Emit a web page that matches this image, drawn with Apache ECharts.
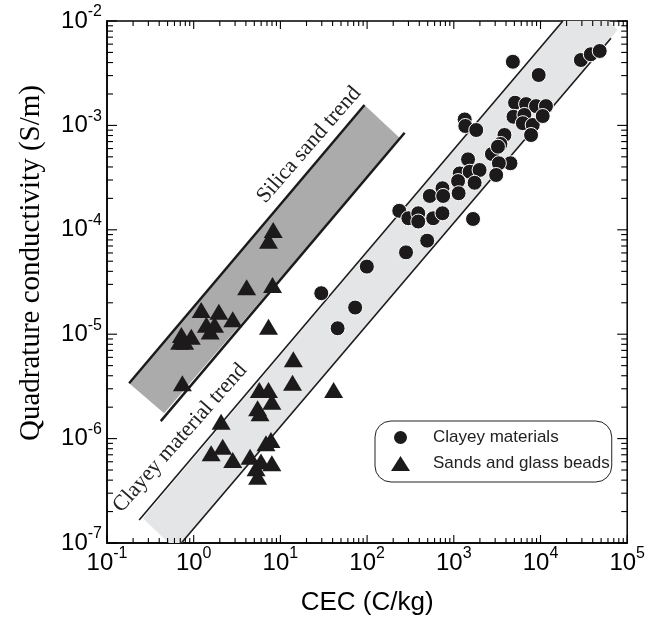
<!DOCTYPE html>
<html><head><meta charset="utf-8">
<script src="https://cdn.jsdelivr.net/npm/echarts@6/dist/echarts.min.js"></script>
<style>html,body{margin:0;padding:0;background:#fff}#c{width:648px;height:621px}</style>
</head><body><div id="c"></div>
<script>
// ---- data ----
const clayeyCEC = [4800, 9530, 29200, 38000, 48200, 5090, 6820, 8880, 11560, 4880, 6520, 6250, 8130, 10600, 7780, 3840, 3450, 2750, 3230, 4500, 3310, 3080, 1335, 1358, 1815, 1460, 1170, 1524, 1983, 1738, 1120, 1137, 740, 528, 754, 235, 299, 389, 389, 578, 740, 1667, 493, 281, 99.3, 29.6, 72.8, 45.7];
const clayeyQC = [4.07e-3, 3.04e-3, 4.23e-3, 4.80e-3, 5.16e-3, 1.65e-3, 1.60e-3, 1.53e-3, 1.53e-3, 1.21e-3, 1.26e-3, 1.05e-3, 1.01e-3, 1.23e-3, 8.09e-4, 8.09e-4, 6.64e-4, 5.32e-4, 6.25e-4, 4.34e-4, 4.34e-4, 3.35e-4, 1.14e-3, 9.87e-4, 9.03e-4, 4.73e-4, 3.47e-4, 3.60e-4, 3.74e-4, 2.82e-4, 2.93e-4, 2.24e-4, 2.50e-4, 2.11e-4, 2.11e-4, 1.52e-4, 1.29e-4, 1.44e-4, 1.20e-4, 1.29e-4, 1.44e-4, 1.27e-4, 7.87e-5, 6.08e-5, 4.44e-5, 2.47e-5, 1.80e-5, 1.14e-5];
const sandCEC = [1.22, 1.95, 2.82, 1.40, 1.74, 1.55, 0.721, 0.938, 0.787, 0.689, 0.740, 7.29, 14.1, 13.8, 5.71, 7.29, 7.97, 5.46, 5.82, 2.07, 7.78, 6.82, 2.16, 1.59, 2.82, 4.47, 5.97, 7.97, 5.24, 5.46, 41.1, 8.26, 7.29, 4.08, 8.11];
const sandQC = [1.71e-5, 1.64e-5, 1.39e-5, 1.23e-5, 1.23e-5, 1.06e-5, 9.82e-6, 9.46e-6, 8.48e-6, 8.48e-6, 3.39e-6, 1.18e-5, 5.75e-6, 3.43e-6, 2.92e-6, 2.92e-6, 2.26e-6, 1.95e-6, 1.75e-6, 1.45e-6, 9.70e-7, 9.02e-7, 8.35e-7, 7.22e-7, 6.24e-7, 6.71e-7, 6.03e-7, 5.80e-7, 5.20e-7, 4.31e-7, 2.92e-6, 9.95e-5, 7.87e-5, 2.81e-5, 2.96e-5];

// trend bands (CEC, conductivity)
const silicaBand  = [[0.180, 3.39e-6], [93.3, 1.57e-3], [241.5, 7.51e-4], [0.455, 1.75e-6]];
const silicaUpper = [[0.180, 3.39e-6], [93.3, 1.57e-3]];
const silicaLower = [[0.417, 1.47e-6], [271, 8.51e-4]];
const clayBand    = [[0.259, 1.73e-7], [32400, 1.76e-2], [77600, 8.2e-3], [0.628, 8.57e-8]];
const clayUpper   = [[0.235, 1.66e-7], [18100, 1e-2]];
const clayLower   = [[0.721, 1e-7], [65000, 6.83e-3]];

// axes
const xTickValues = [0.1, 1, 10, 100, 1e3, 1e4, 1e5];
const xTickExp    = ['-1', '0', '1', '2', '3', '4', '5'];
const yTickValues = [1e-7, 1e-6, 1e-5, 1e-4, 1e-3, 1e-2];
const yTickExp    = ['-7', '-6', '-5', '-4', '-3', '-2'];
const xMin = 0.1, xMax = 1e5, yMin = 1e-7, yMax = 1e-2;

const seriesNames = ['Clayey materials', 'Sands and glass beads'];

// tick positions (decades and their 2..9 subdivisions)
function decadeTicks(vals) {
  const out = [];
  for (let i = 0; i < vals.length; i++) {
    out.push({v: vals[i], major: true});
    if (i < vals.length - 1) for (let k = 2; k <= 9; k++) out.push({v: vals[i] * k, major: false});
  }
  return out;
}
const xTicks = decadeTicks(xTickValues);
const yTicks = decadeTicks(yTickValues);

const INK = '#1c1a1b';
const chart = echarts.init(document.getElementById('c'), null, {renderer: 'canvas'});

function expIndex(values, v) {
  let best = 0, bd = Infinity;
  values.forEach((t, i) => { const d = Math.abs(Math.log10(t) - Math.log10(v)); if (d < bd) { bd = d; best = i; } });
  return best;
}

const labelRich = {
  b: {fontSize: 24, fontFamily: 'Liberation Sans', color: '#000', lineHeight: 34},
  s: {fontSize: 16, fontFamily: 'Liberation Sans', color: '#000', lineHeight: 12, verticalAlign: 'top'}
};

function polygonSeries(pts, color) {
  return {
    type: 'custom', coordinateSystem: 'cartesian2d', clip: true, silent: true, z: 1,
    data: [pts[0]],
    renderItem: function (params, api) {
      const p = pts.map(q => api.coord(q));
      return {type: 'polygon', shape: {points: p}, style: {fill: color}};
    }
  };
}
function lineSeries(pts, w) {
  return {
    type: 'line', data: pts, symbol: 'none', clip: true, silent: true, z: 2,
    lineStyle: {color: INK, width: w}, animation: false
  };
}
function tickSeries(ticks, isX) {
  return {
    type: 'custom', coordinateSystem: 'cartesian2d', clip: false, silent: true, z: 5,
    data: ticks.map(t => isX ? [t.v, yMin] : [xMin, t.v]),
    renderItem: function (params, api) {
      const t = ticks[params.dataIndex];
      const cs = params.coordSys;
      const st = {stroke: '#000', lineWidth: 1.1};
      if (isX) {
        const px = api.coord([t.v, yMin])[0];
        const L = t.major ? 8 : 5;
        return {type: 'group', children: [
          {type: 'line', shape: {x1: px, y1: cs.y + cs.height, x2: px, y2: cs.y + cs.height - L}, style: st},
          {type: 'line', shape: {x1: px, y1: cs.y, x2: px, y2: cs.y + L}, style: st}
        ]};
      } else {
        const py = api.coord([xMin, t.v])[1];
        const L = t.major ? 10 : 6;
        return {type: 'group', children: [
          {type: 'line', shape: {x1: cs.x, y1: py, x2: cs.x + L, y2: py}, style: st},
          {type: 'line', shape: {x1: cs.x + cs.width, y1: py, x2: cs.x + cs.width - L, y2: py}, style: st}
        ]};
      }
    }
  };
}

chart.setOption({
  animation: false,
  backgroundColor: '#fff',
  grid: {left: 107, right: 18, top: 21, bottom: 78, show: true, borderColor: '#000', borderWidth: 1.5, backgroundColor: 'transparent'},
  xAxis: {
    type: 'log', logBase: 10, min: xMin, max: xMax,
    axisLine: {show: true, lineStyle: {color: '#000', width: 1.5}},
    axisTick: {show: false}, splitLine: {show: false}, minorTick: {show: false},
    axisLabel: {margin: 3, rich: labelRich,
      formatter: v => '{b|10}{s|' + xTickExp[expIndex(xTickValues, v)] + '}'},
    name: 'CEC (C/kg)', nameLocation: 'middle', nameGap: 47,
    nameTextStyle: {fontFamily: 'Liberation Sans', fontSize: 26, color: '#000'}
  },
  yAxis: {
    type: 'log', logBase: 10, min: yMin, max: yMax,
    axisLine: {show: true, lineStyle: {color: '#000', width: 1.5}},
    axisTick: {show: false}, splitLine: {show: false}, minorTick: {show: false},
    axisLabel: {margin: 5, rich: labelRich,
      formatter: v => '{b|10}{s|' + yTickExp[expIndex(yTickValues, v)] + '}'}
  },
  legend: {
    orient: 'vertical', left: 375, top: 421,
    padding: [8, 2, 10, 16], itemGap: 9, itemWidth: 19, itemHeight: 15,
    borderColor: '#222', borderWidth: 1, borderRadius: 16,
    textStyle: {fontFamily: 'Liberation Sans', fontSize: 17, color: '#222', padding: [0, 0, 0, 18]},
    data: [
      {name: seriesNames[0], icon: 'circle', itemStyle: {color: INK}},
      {name: seriesNames[1], icon: 'path://M0,15L9.5,0L19,15Z', itemStyle: {color: INK}}
    ]
  },
  graphic: [
    {type: 'text', x: 31, y: 263, rotation: Math.PI / 2, silent: true,
      style: {text: 'Quadrature conductivity (S/m)', fontFamily: 'Liberation Serif', fontSize: 29, fill: '#000', align: 'center', verticalAlign: 'middle'}},
    {type: 'text', x: 309, y: 145, rotation: 49 * Math.PI / 180, silent: true, z: 10,
      style: {text: 'Silica sand trend', fontFamily: 'Liberation Serif', fontSize: 22, fill: '#222', align: 'center', verticalAlign: 'middle'}},
    {type: 'text', x: 180, y: 438, rotation: 48.5 * Math.PI / 180, silent: true, z: 10,
      style: {text: 'Clayey material trend', fontFamily: 'Liberation Serif', fontSize: 22, fill: '#222', align: 'center', verticalAlign: 'middle'}}
  ],
  series: [
    polygonSeries(silicaBand, '#ababab'),
    polygonSeries(clayBand, '#e4e5e6'),
    lineSeries(silicaUpper, 2.5),
    lineSeries(silicaLower, 2.5),
    lineSeries(clayUpper, 1.6),
    lineSeries(clayLower, 1.6),
    tickSeries(xTicks, true),
    tickSeries(yTicks, false),
    {
      name: seriesNames[0], type: 'scatter', z: 4,
      data: clayeyCEC.map((x, i) => [x, clayeyQC[i]]),
      symbol: 'circle', symbolSize: 15,
      itemStyle: {color: INK, borderColor: '#fff', borderWidth: 1, opacity: 1}
    },
    {
      name: seriesNames[1], type: 'scatter', z: 4,
      data: sandCEC.map((x, i) => [x, sandQC[i]]),
      symbol: 'triangle', symbolSize: [19, 16],
      itemStyle: {color: INK, opacity: 1}
    }
  ]
});
</script>
</body></html>
